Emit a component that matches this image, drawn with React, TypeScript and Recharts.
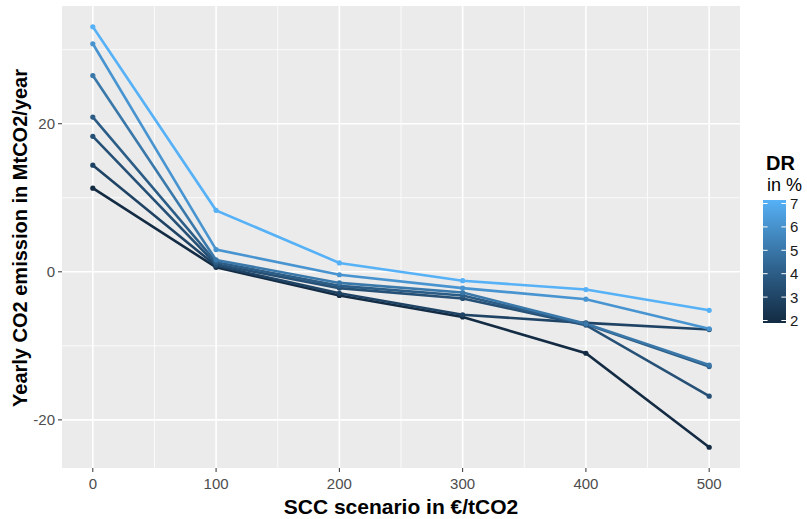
import React from "react";
import { LineChart, Line, XAxis, YAxis, CartesianGrid } from "recharts";

const SCC = [0, 100, 200, 300, 400, 500];
const DR_VALUES = [2, 3, 3.5, 4, 5, 6, 7];
const EMISSIONS_DR2 = [11.3, 0.6, -3.2, -6.1, -11.0, -23.7];
const EMISSIONS_DR3 = [14.4, 0.8, -2.9, -5.8, -6.9, -7.8];
const EMISSIONS_DR35 = [18.3, 1.0, -2.2, -3.6, -7.2, -16.8];
const EMISSIONS_DR4 = [20.9, 1.3, -1.9, -3.2, -7.1, -12.8];
const EMISSIONS_DR5 = [26.5, 1.6, -1.5, -2.8, -7.0, -12.6];
const EMISSIONS_DR6 = [30.8, 3.0, -0.4, -2.2, -3.7, -7.7];
const EMISSIONS_DR7 = [33.1, 8.3, 1.2, -1.2, -2.4, -5.2];
const SERIES = [
  EMISSIONS_DR2,
  EMISSIONS_DR3,
  EMISSIONS_DR35,
  EMISSIONS_DR4,
  EMISSIONS_DR5,
  EMISSIONS_DR6,
  EMISSIONS_DR7,
];
const X_TICKS = [0, 100, 200, 300, 400, 500];
const X_MINOR = [50, 150, 250, 350, 450];
const Y_TICKS = [-20, 0, 20];
const Y_MINOR = [-10, 10, 30];
const LEGEND_TICKS = [2, 3, 4, 5, 6, 7];

const LOW = "#132B43";
const HIGH = "#56B1F7";
const FONT = "'Liberation Sans', Arial, sans-serif";

function hexToLab(hex: string) {
  const n = parseInt(hex.slice(1), 16);
  const c = [(n >> 16) & 255, (n >> 8) & 255, n & 255].map((v) => {
    const s = v / 255;
    return s <= 0.04045 ? s / 12.92 : Math.pow((s + 0.055) / 1.055, 2.4);
  });
  const X = (0.4124564 * c[0] + 0.3575761 * c[1] + 0.1804375 * c[2]) / 0.95047;
  const Y = 0.2126729 * c[0] + 0.7151522 * c[1] + 0.072175 * c[2];
  const Z = (0.0193339 * c[0] + 0.119192 * c[1] + 0.9503041 * c[2]) / 1.08883;
  const f = (t: number) => (t > 0.008856 ? Math.cbrt(t) : 7.787 * t + 16 / 116);
  const fx = f(X), fy = f(Y), fz = f(Z);
  return [116 * fy - 16, 500 * (fx - fy), 200 * (fy - fz)];
}

function labToHex(lab: number[]) {
  const fy = (lab[0] + 16) / 116;
  const fx = fy + lab[1] / 500;
  const fz = fy - lab[2] / 200;
  const inv = (f: number) => (f * f * f > 0.008856 ? f * f * f : (f - 16 / 116) / 7.787);
  const X = inv(fx) * 0.95047, Y = inv(fy), Z = inv(fz) * 1.08883;
  const lin = [
    3.2404542 * X - 1.5371385 * Y - 0.4985314 * Z,
    -0.969266 * X + 1.8760108 * Y + 0.041556 * Z,
    0.0556434 * X - 0.2040259 * Y + 1.0572252 * Z,
  ];
  return (
    "#" +
    lin
      .map((v) => {
        const s = v <= 0.0031308 ? 12.92 * v : 1.055 * Math.pow(v, 1 / 2.4) - 0.055;
        const k = Math.max(0, Math.min(255, Math.round(s * 255)));
        return k.toString(16).padStart(2, "0");
      })
      .join("")
  );
}

const LAB_LOW = hexToLab(LOW);
const LAB_HIGH = hexToLab(HIGH);
function colorFor(v: number) {
  const t = (v - 2) / 5;
  return labToHex(LAB_LOW.map((l, i) => l + (LAB_HIGH[i] - l) * t));
}

const data = SCC.map((x, i) => {
  const row: Record<string, number> = { scc: x };
  DR_VALUES.forEach((dr, k) => {
    row["dr" + dr] = SERIES[k][i];
  });
  return row;
});

const BAR_X = 763;
const BAR_W = 23;
const BAR_TOP = 200;
const BAR_BOTTOM = 323;
const tickY = (v: number) => 320.5 - (v - 2) * 23.4;

export default function App() {
  const stops = Array.from({ length: 21 }, (_, i) => i / 20);
  return (
    <div
      style={{
        position: "absolute",
        left: 0,
        top: 0,
        width: 807,
        height: 519,
        background: "#fff",
        fontFamily: FONT,
      }}
    >
      <LineChart
        width={807}
        height={519}
        data={data}
        margin={{ top: 6, right: 67, bottom: 0, left: 0 }}
      >
        <CartesianGrid
          fill="#EBEBEB"
          stroke="#FFFFFF"
          strokeWidth={0.8}
          horizontalValues={Y_MINOR}
          verticalValues={X_MINOR}
        />
        <CartesianGrid
          stroke="#FFFFFF"
          strokeWidth={1.6}
          horizontalValues={Y_TICKS}
          verticalValues={X_TICKS}
        />
        <XAxis
          dataKey="scc"
          type="number"
          domain={[-25, 525]}
          ticks={X_TICKS}
          height={51}
          tickSize={4}
          tickMargin={6}
          axisLine={false}
          tickLine={{ stroke: "#333333", strokeWidth: 1 }}
          tick={{ fill: "#4D4D4D", fontSize: 15, fontFamily: FONT }}
          allowDataOverflow
        />
        <YAxis
          type="number"
          domain={[-26.5, 35.9]}
          ticks={Y_TICKS}
          width={62}
          tickSize={4}
          tickMargin={3}
          axisLine={false}
          tickLine={{ stroke: "#333333", strokeWidth: 1 }}
          tick={{ fill: "#4D4D4D", fontSize: 15, fontFamily: FONT }}
          allowDataOverflow
        />
        {DR_VALUES.map((dr) => (
          <Line
            key={dr}
            dataKey={"dr" + dr}
            type="linear"
            stroke={colorFor(dr)}
            strokeWidth={2.6}
            dot={{ r: 2.6, fill: colorFor(dr), stroke: "none" }}
            activeDot={false}
            isAnimationActive={false}
          />
        ))}
      </LineChart>
      <svg
        width={807}
        height={519}
        style={{ position: "absolute", left: 0, top: 0, pointerEvents: "none" }}
      >
        <text
          x={401}
          y={514}
          textAnchor="middle"
          fontSize={21}
          fontWeight="bold"
          fill="#000"
          fontFamily={FONT}
        >
          SCC scenario in €/tCO2
        </text>
        <text
          transform="translate(27,238) rotate(-90)"
          textAnchor="middle"
          fontSize={20}
          fontWeight="bold"
          fill="#000"
          fontFamily={FONT}
        >
          Yearly CO2 emission in MtCO2/year
        </text>
        <defs>
          <linearGradient id="drgrad" x1="0" y1="1" x2="0" y2="0">
            {stops.map((s) => (
              <stop key={s} offset={s} stopColor={colorFor(2 + 5 * s)} />
            ))}
          </linearGradient>
        </defs>
        <text x={766} y={170} fontSize={20} fontWeight="bold" fill="#000" fontFamily={FONT}>
          DR
        </text>
        <text x={767} y={191} fontSize={18} fill="#000" fontFamily={FONT}>
          in %
        </text>
        <rect x={BAR_X} y={BAR_TOP} width={BAR_W} height={BAR_BOTTOM - BAR_TOP} fill="url(#drgrad)" />
        {LEGEND_TICKS.map((v) => (
          <g key={v}>
            <line x1={BAR_X} x2={BAR_X + 4.6} y1={tickY(v)} y2={tickY(v)} stroke="#fff" strokeWidth={1} />
            <line
              x1={BAR_X + BAR_W - 4.6}
              x2={BAR_X + BAR_W}
              y1={tickY(v)}
              y2={tickY(v)}
              stroke="#fff"
              strokeWidth={1}
            />
            <text x={790} y={tickY(v) + 5.5} fontSize={15} fill="#1A1A1A" fontFamily={FONT}>
              {v}
            </text>
          </g>
        ))}
      </svg>
    </div>
  );
}
